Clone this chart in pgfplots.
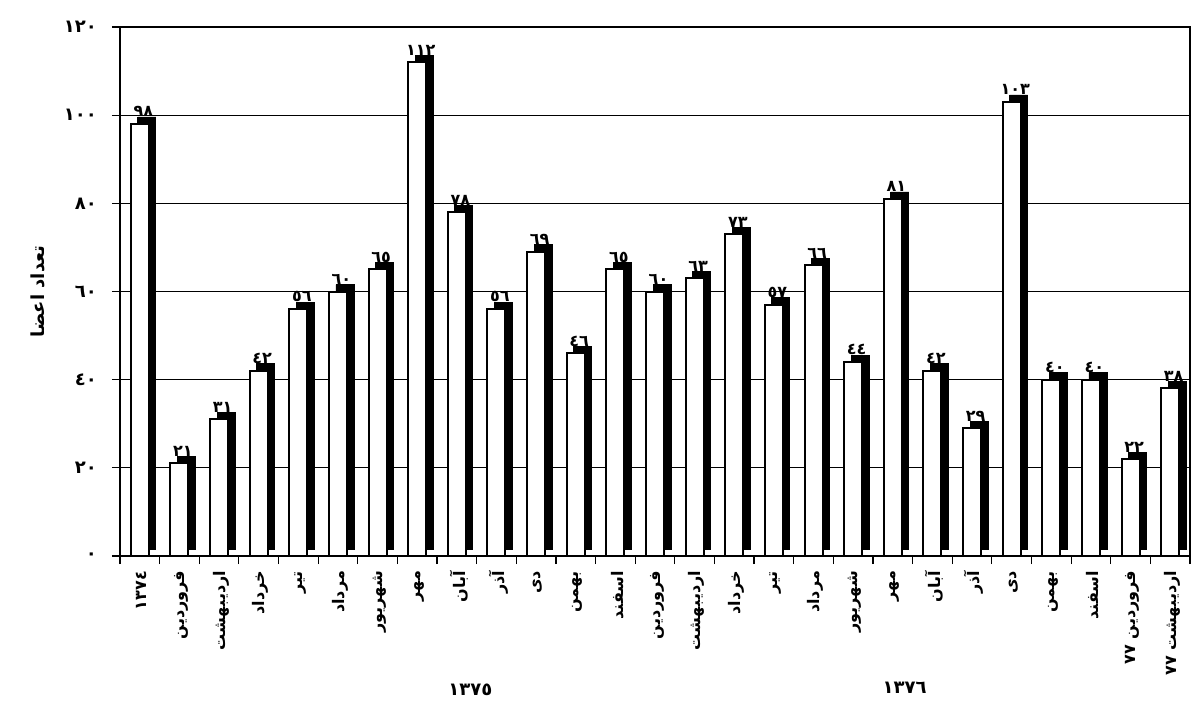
\documentclass[border=0pt]{standalone}
\usepackage{fontspec}
\usepackage{pgfplots}
\pgfplotsset{compat=1.18}
\TeXXeTstate=1
\newfontfamily\arabicfont[Script=Arabic]{DejaVu Sans}
\newcommand{\fa}[1]{\beginR #1\endR}
\begin{document}
\begin{tikzpicture}
\useasboundingbox (-60pt,-73.5pt) rectangle (536pt,278pt);
\begin{axis}[
  at={(0,0)}, anchor=south west,
  scale only axis,
  width=535pt, height=264.5pt,
  ybar,
  bar width=9pt,
  xmin=-0.5, xmax=26.5,
  ymin=0, ymax=120,
  ytick={0,20,40,60,80,100,120},
  yticklabels={٠,٢٠,٤٠,٦٠,٨٠,١٠٠,١٢٠},
  yticklabel style={font=\arabicfont\bfseries\small, xshift=-4pt},
  xtick={0,...,26},
  xticklabels={
    ١٣٧٤,
    \fa{فروردین},\fa{اردیبهشت},\fa{خرداد},\fa{تیر},\fa{مرداد},\fa{شهریور},\fa{مهر},\fa{آبان},\fa{آذر},\fa{دی},\fa{بهمن},\fa{اسفند},
    \fa{فروردین},\fa{اردیبهشت},\fa{خرداد},\fa{تیر},\fa{مرداد},\fa{شهریور},\fa{مهر},\fa{آبان},\fa{آذر},\fa{دی},\fa{بهمن},\fa{اسفند},
    {\beginR فروردین ٧٧\endR},{\beginR اردیبهشت ٧٧\endR}},
  xticklabel style={font=\arabicfont\bfseries\footnotesize, rotate=90, anchor=east, yshift=-1pt},
  every major x tick/.append style={draw=none},
  minor xtick={-0.5,0.5,...,26.5},
  xtick pos=bottom, ytick pos=left,
  tick align=outside,
  tick style={black, line width=0.6pt},
  minor tick length=4pt,
  major tick length=4pt,
  ymajorgrids,
  grid style={black, line width=0.5pt},
  axis line style={black, line width=1.3pt},
  ylabel={\arabicfont\bfseries\small\beginR تعداد اعضا\endR},
  every axis y label/.style={at={(axis description cs:0,0.5)}, xshift=-41pt, rotate=90, anchor=center},
  clip=false,
  point meta=explicit symbolic,
]
\addplot[fill=black, draw=black, bar shift=3.5pt, yshift=3.5pt, forget plot] coordinates {
(0,98) (1,21) (2,31) (3,42) (4,56) (5,60) (6,65) (7,112) (8,78) (9,56)
(10,69) (11,46) (12,65) (13,60) (14,63) (15,73) (16,57) (17,66) (18,44) (19,81)
(20,42) (21,29) (22,103) (23,40) (24,40) (25,22) (26,38)};
\addplot[fill=white, draw=black, line width=1pt, bar shift=0pt,
  nodes near coords,
  every node near coord/.append style={font=\arabicfont\bfseries\footnotesize, yshift=2pt, xshift=1.75pt, inner sep=1pt}]
coordinates {
(0,98) [٩٨] (1,21) [٢١] (2,31) [٣١] (3,42) [٤٢] (4,56) [٥٦] (5,60) [٦٠] (6,65) [٦٥]
(7,112) [١١٢] (8,78) [٧٨] (9,56) [٥٦] (10,69) [٦٩] (11,46) [٤٦] (12,65) [٦٥]
(13,60) [٦٠] (14,63) [٦٣] (15,73) [٧٣] (16,57) [٥٧] (17,66) [٦٦] (18,44) [٤٤]
(19,81) [٨١] (20,42) [٤٢] (21,29) [٢٩] (22,103) [١٠٣] (23,40) [٤٠] (24,40) [٤٠]
(25,22) [٢٢] (26,38) [٣٨]};
\node[font=\arabicfont\bfseries\small] at (axis cs:8.34,0) [yshift=-67pt] {١٣٧٥};
\node[font=\arabicfont\bfseries\small] at (axis cs:19.3,0) [yshift=-66pt] {١٣٧٦};
\end{axis}
\end{tikzpicture}
\end{document}
